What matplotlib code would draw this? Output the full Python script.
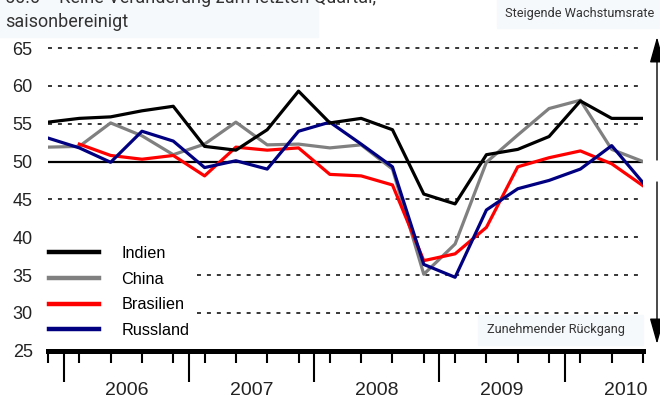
import numpy as np
import matplotlib.pyplot as plt
from matplotlib.patches import Rectangle

plt.rcParams['font.family'] = ['Liberation Sans', 'DejaVu Sans']

# Quartale: Q4 2005 ... Q3 2010
quarters = np.arange(20)
indien = [55.2, 55.7, 55.9, 56.7, 57.3, 52.0, 51.5, 54.2, 59.3, 55.1,
          55.7, 54.2, 45.7, 44.4, 50.9, 51.6, 53.3, 58.0, 55.7, 55.7]
china = [51.9, 52.0, 55.1, 53.4, 50.9, 52.3, 55.2, 52.2, 52.3, 51.8,
         52.2, 49.0, 35.1, 39.1, 49.9, 53.5, 57.0, 58.1, 51.6, 50.0]
brasilien = [np.nan, 52.3, 50.8, 50.3, 50.8, 48.1, 51.9, 51.5, 51.8, 48.3,
             48.1, 46.9, 36.9, 37.8, 41.3, 49.3, 50.5, 51.4, 49.7, 46.8]
russland = [53.1, 51.8, 49.9, 54.0, 52.7, 49.2, 50.1, 49.0, 54.0, 55.2,
            52.3, 49.3, 36.4, 34.7, 43.6, 46.4, 47.5, 49.0, 52.1, 47.2]

years = ['2006', '2007', '2008', '2009', '2010']
year_pos = [2.5, 6.5, 10.5, 14.5, 18.45]
year_bounds = [0.5, 4.5, 8.5, 12.5, 16.5]
yticks = [25, 30, 35, 40, 45, 50, 55, 60, 65]

fig = plt.figure(figsize=(6.6, 4.01), dpi=100)
px = 7.5675  # pixel pro Einheit
ax = fig.add_axes([48/660, 50.3/401, 595/660, 40.5*px/401])
ax.set_xlim(0, 19)
ax.set_ylim(25, 65.5)

# Gitterlinien (gestrichelt), 30-40 erst rechts der Legende
dash = (0, (2.6, 3.9))
for y in [45, 55, 60, 65]:
    ax.hlines(y, 0, 19, colors='black', lw=1.1, linestyles=dash, zorder=1)
for y in [30, 35, 40]:
    ax.hlines(y, 4.76, 19, colors='black', lw=1.1, linestyles=dash, zorder=1)
ax.hlines(50, 0, 19, colors='black', lw=1.6, zorder=2)

ax.plot(quarters, china, color='#808080', lw=2.3, label='China', zorder=3)
ax.plot(quarters, brasilien, color='#ff0000', lw=2.3, label='Brasilien', zorder=4)
ax.plot(quarters, russland, color='#000080', lw=2.3, label='Russland', zorder=5)
ax.plot(quarters, indien, color='black', lw=2.3, label='Indien', zorder=6)

handles, labels = ax.get_legend_handles_labels()
order = [3, 0, 1, 2]
leg = ax.legend([handles[i] for i in order], [labels[i] for i in order],
                loc='upper left', bbox_to_anchor=(49/660, (401-246)/401),
                bbox_transform=fig.transFigure, frameon=False, borderpad=0,
                borderaxespad=0, handlelength=3.1, handletextpad=1.35,
                labelspacing=0.66, fontsize=11.7)
for ln in leg.get_lines():
    ln.set_linewidth(3.2)

# Achsen
for s in ['top', 'right', 'left']:
    ax.spines[s].set_visible(False)
ax.spines['bottom'].set_linewidth(3.6)
ax.set_yticks(yticks)
ax.set_yticklabels([str(v) for v in yticks])
ax.tick_params(axis='y', length=0, pad=11, labelsize=13, labelcolor='#222222')
ax.set_xticks(year_bounds)
ax.set_xticklabels([])
ax.set_xticks(quarters, minor=True)
ax.tick_params(axis='x', which='major', length=22.5, width=1.5, direction='out')
ax.tick_params(axis='x', which='minor', length=8.5, width=1.5, direction='out')
for x, lab in zip(year_pos, years):
    ax.annotate(lab, xy=(x, 0), xycoords=('data', 'axes fraction'),
                xytext=(0, -29), textcoords='offset points',
                ha='center', va='center', fontsize=14, color='#222222',
                annotation_clip=False)

# Kopftext und Hinweise
bg = '#f6f9fb'
fig.patches.append(Rectangle((0, (401-37)/401), 318/660, 37/401,
                             transform=fig.transFigure, color=bg, zorder=0))
fig.patches.append(Rectangle((497/660, (401-28)/401), 163/660, 28/401,
                             transform=fig.transFigure, color=bg, zorder=0))
fig.patches.append(Rectangle((478/660, (401-345)/401), 165/660, 30/401,
                             transform=fig.transFigure, color=bg, zorder=0))
fig.text(5/660, 1 - 3/401, '50.0 = Keine Veränderung zum letzten Quartal,',
         fontsize=13, color='#333333', va='baseline', family='Roboto')
fig.text(5/660, 1 - 27/401, 'saisonbereinigt', fontsize=13, color='#333333',
         va='baseline', family='Roboto')
fig.text(505/660, 1 - 14/401, 'Steigende Wachstumsrate', fontsize=9.2,
         color='#333333', va='center', family='Roboto')
fig.text(556/660, 1 - 330/401, 'Zunehmender Rückgang', fontsize=9.2,
         color='#333333', va='center', ha='center', family='Roboto')

# Pfeile rechts
arrow = dict(arrowstyle='-|>,head_length=1.6,head_width=0.45', color='black',
             lw=1, mutation_scale=10, shrinkA=0, shrinkB=0)
ax.annotate('', xy=(657, 401-37), xytext=(657, 401-160),
            xycoords='figure pixels', textcoords='figure pixels',
            arrowprops=arrow, annotation_clip=False)
ax.annotate('', xy=(657, 401-344), xytext=(657, 401-182),
            xycoords='figure pixels', textcoords='figure pixels',
            arrowprops=arrow, annotation_clip=False)

fig.savefig('out.png', dpi=100)
